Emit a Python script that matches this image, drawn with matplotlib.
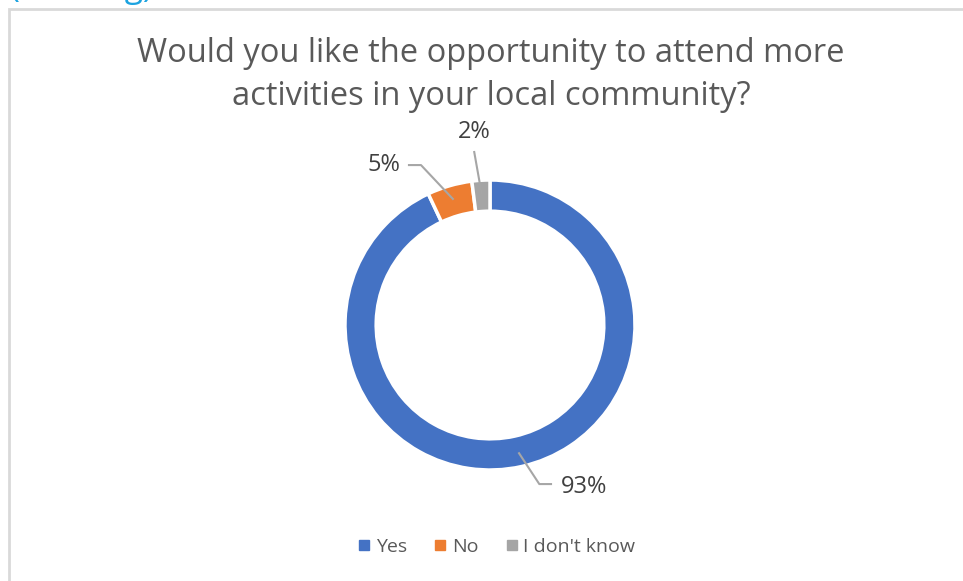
import numpy as np
import matplotlib
matplotlib.use("Agg")
import matplotlib.pyplot as plt
from matplotlib.lines import Line2D
from matplotlib.patches import Rectangle

categories = ["Yes", "No", "I don't know"]
values = [93, 5, 2]
labels = ["93%", "5%", "2%"]
colors = ["#4472C4", "#ED7D31", "#A5A5A5"]
title = "Would you like the opportunity to attend more\nactivities in your local community?"

plt.rcParams['font.family'] = ['Open Sans', 'DejaVu Sans']

W, H = 963, 581
fig = plt.figure(figsize=(W / 100, H / 100), dpi=100)
fig.patch.set_facecolor("white")

# chart border
fig.add_artist(Rectangle((9 / W, -0.01), 1.1, 1 - 9 / H + 0.01, transform=fig.transFigure,
                         fill=False, edgecolor="#D9D9D9", linewidth=2))
# cut-off heading above the chart
fig.text(10 / W, 1 + 3 / H, "(Ranking)", color="#1CA3E0", fontsize=24, va="baseline", ha="left")

cx, cy, R = 490, 325, 145
ax = fig.add_axes([0, 0, 1, 1])

wedges, _ = ax.pie(values, colors=colors, startangle=90, counterclock=False, radius=1,
                   wedgeprops=dict(width=0.215, edgecolor="white", linewidth=2.5))
ax.set_aspect("auto")
ax.set_xlim(-cx / R, (W - cx) / R)
ax.set_ylim(-(H - cy) / R, cy / R)
ax.axis("off")

fig.text(491 / W, 1 - 75 / H, title, ha="center", va="center", fontsize=23.5,
         color="#595959", linespacing=1.4)

# data labels with leader lines
total = sum(values)
cum = np.cumsum([0] + values)
label_pos = [(0.49, -1.117), (-0.62, 1.103), (-0.11, 1.33)]
elbows = [[(0.34, -1.097), (0.428, -1.097)], [(-0.476, 1.103), (-0.566, 1.103)], [(-0.11, 1.2)]]
has = ["left", "right", "center"]
for i, v in enumerate(values):
    mid = 90 - 360 * (cum[i] + v / 2) / total
    r = 0.9
    px, py = r * np.cos(np.radians(mid)), r * np.sin(np.radians(mid))
    pts = [(px, py)] + elbows[i]
    ax.plot([p[0] for p in pts], [p[1] for p in pts], color="#A6A6A6", linewidth=1.5,
            solid_capstyle="butt")
    ax.text(label_pos[i][0], label_pos[i][1], labels[i], ha=has[i], va="center",
            fontsize=17, color="#404040")

handles = [Line2D([], [], marker="s", linestyle="none", markersize=7, markerfacecolor=c,
                  markeredgecolor=c) for c in colors]
fig.legend(handles, categories, loc="center", bbox_to_anchor=(495 / W, 1 - 547 / H), ncol=3,
           frameon=False, fontsize=14, labelcolor="#595959", handletextpad=0.1,
           columnspacing=1.2, handlelength=1.0)

fig.savefig("out.png", dpi=100, facecolor="white")
